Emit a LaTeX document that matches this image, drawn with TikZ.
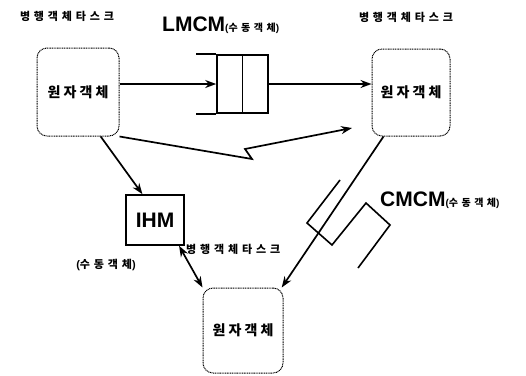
\documentclass[tikz,border=0pt]{standalone}
\usepackage{fontspec}
\setmainfont{Liberation Sans}
\newfontfamily\krfont{Noto Sans CJK KR}[LetterSpace=35]
\newfontfamily\krbox{Noto Sans CJK KR}[LetterSpace=22]
\usetikzlibrary{arrows.meta}

\newcommand\passivetxt{{\bfseries(}{\krfont\bfseries 수동객체}{\bfseries)}}
\newcommand\mcmlabel[1]{{\bfseries\fontsize{21}{21}\selectfont #1}{\fontsize{10}{10}\selectfont\passivetxt}}

\tikzset{
  task/.style={inner sep=0pt, font=\bfseries\fontsize{11}{12}\selectfont},
  atom/.style={draw, line width=1pt, dash pattern=on 1pt off 0.7pt, rounded corners=10pt, inner sep=0pt,
    font=\krbox\bfseries\fontsize{14}{15}\selectfont},
  conn/.style={line width=1.7pt, -{Stealth[length=11pt,width=8pt]}},
  both/.style={line width=1.7pt, {Stealth[length=11pt,width=8pt]}-{Stealth[length=11pt,width=8pt]}},
  queue/.style={line width=1.6pt}
}

\begin{document}
\begin{tikzpicture}[x=1pt,y=-1pt]
\useasboundingbox (0,0) rectangle (526,375);

% task labels
\node[task] (tl) at (67,16) {\krfont 병행객체타스크};
\node[task] (tr) at (406,17) {\krfont 병행객체타스크};
\node[task, anchor=west] (tm) at (186,249) {\krfont 병행객체타스크};
\node[task] (passive) at (106,265) {\passivetxt};

% atomic objects
\node[atom, minimum width=82pt, minimum height=88pt] (leftobj) at (78,92) {원자객체};
\node[atom, minimum width=78pt, minimum height=87pt] (rightobj) at (411,92.5) {원자객체};
\node[atom, minimum width=80pt, minimum height=85pt] (bottomobj) at (243,330.5) {원자객체};

% IHM
\node[draw, line width=1.6pt, minimum width=58pt, minimum height=50pt, inner sep=0pt,
  font=\bfseries\fontsize{21}{21}\selectfont] (ihm) at (155,220) {IHM};

% LMCM queue
\node[draw, queue, minimum width=51pt, minimum height=58pt, inner sep=0pt] (lmcm) at (242.5,84) {};
\draw[queue] (lmcm.north) -- (lmcm.south);
\draw[queue] (lmcm.north west) -- ++(-20,0);
\draw[queue] (lmcm.south west) -- ++(-20,0);
\node[anchor=west, inner sep=0pt] (lmcmlabel) at (162,25) {\mcmlabel{LMCM}};

% CMCM queue
\draw[queue] (340,180) -- (307,223) -- (332,245) -- (366,203) -- (390,225) -- (358,268);
\node[anchor=west, inner sep=0pt] (cmcmlabel) at (380,200) {\mcmlabel{CMCM}};

% connectors
\coordinate (kink1) at (252,159);
\coordinate (kink2) at (245,149);
\coordinate (zzend) at (352,128);
\draw[conn] (leftobj.east |- lmcm.west) -- (lmcm.west);
\draw[conn] (lmcm.east) -- (lmcm.east -| rightobj.west);
\draw[conn] (leftobj.south east) -- (kink1) -- (kink2) -- (zzend);
\draw[conn] (leftobj.-63) -- (ihm.116);
\draw[conn] (rightobj.238) -- (bottomobj.48);
\draw[both] (ihm.-47) -- (bottomobj.north west);
\end{tikzpicture}
\end{document}
